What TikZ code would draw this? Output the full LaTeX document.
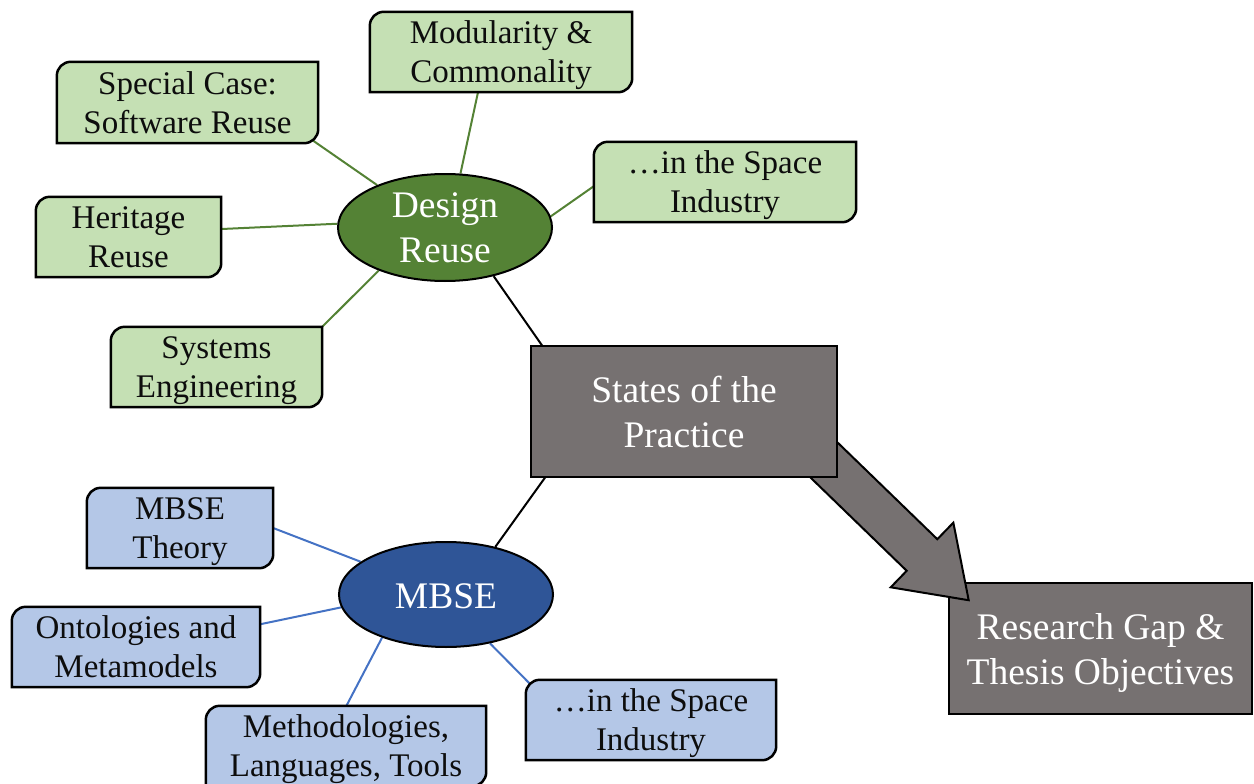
\documentclass[tikz,border=0pt]{standalone}
\usepackage{fontspec}
\setmainfont{Liberation Serif}
\usetikzlibrary{shapes.geometric}
\pgfdeclarelayer{links}
\pgfdeclarelayer{plates}
\pgfsetlayers{links,plates,main}

\definecolor{leafgreen}{HTML}{C5E0B4}
\definecolor{hubgreen}{HTML}{548235}
\definecolor{leafblue}{HTML}{B4C7E7}
\definecolor{hubblue}{HTML}{2F5597}
\definecolor{linkblue}{HTML}{4472C4}
\definecolor{slate}{HTML}{767171}

\tikzset{
  leaf/.style={rectangle, inner sep=0pt, align=center, text=black!95, text depth=0pt,
    font=\fontsize{33}{39}\selectfont},
  hub/.style={ellipse, draw=black, line width=2pt, inner sep=0pt},
  hubtext/.style={align=center, text=white, text depth=0pt, font=\fontsize{37.5}{45}\selectfont},
  stage/.style={rectangle, draw=black, line width=2.5pt, fill=slate, inner sep=0pt,
    align=center, text=white, text depth=0pt, font=\fontsize{37.5}{45}\selectfont},
  greenlink/.style={draw=hubgreen, line width=2pt},
  bluelink/.style={draw=linkblue, line width=2pt},
  blacklink/.style={draw=black, line width=2pt},
  plate/.style={draw=black, line width=2.5pt},
}

% Box outline with rounded top-left and bottom-right corners, behind the node text
\newcommand\cornerplate[2]{%
  \begin{pgfonlayer}{plates}
    \path[plate, fill=#2]
      ([yshift=-14pt]#1.north west) arc[start angle=180, end angle=90, radius=14pt]
      -- (#1.north east)
      -- ([yshift=14pt]#1.south east) arc[start angle=0, end angle=-90, radius=14pt]
      -- (#1.south west) -- cycle;
  \end{pgfonlayer}}

\begin{document}
\begin{tikzpicture}[x=1pt,y=1pt]
\useasboundingbox (0,0) rectangle (1254,-784);

% ---- Design reuse branch ----
\node[leaf, minimum width=261pt, minimum height=81pt] (sc) at (187.5,-102.5) {Special Case:\\Software Reuse};
\cornerplate{sc}{leafgreen}
\node[leaf, minimum width=262pt, minimum height=80pt] (mc) at (501,-52) {Modularity \&\\Commonality};
\cornerplate{mc}{leafgreen}
\node[leaf, minimum width=262pt, minimum height=80pt] (gs) at (725,-182) {…in the Space\\Industry};
\cornerplate{gs}{leafgreen}
\node[leaf, minimum width=185pt, minimum height=80pt] (hr) at (128.5,-237) {Heritage\\Reuse};
\cornerplate{hr}{leafgreen}
\node[leaf, minimum width=211pt, minimum height=80pt] (se) at (216.5,-367) {Systems\\Engineering};
\cornerplate{se}{leafgreen}

\node[hub, fill=hubgreen, minimum width=214pt, minimum height=107pt] (dr) at (445,-227.5) {};
\node[hubtext] (drt) at (dr.center) {Design\\Reuse};

% ---- MBSE branch ----
\node[leaf, minimum width=186pt, minimum height=80pt] (mt) at (180,-528) {MBSE\\Theory};
\cornerplate{mt}{leafblue}
\node[leaf, minimum width=248pt, minimum height=80pt] (om) at (136,-647) {Ontologies and\\Metamodels};
\cornerplate{om}{leafblue}
\node[leaf, minimum width=280pt, minimum height=80pt] (ml) at (346,-746) {Methodologies,\\Languages, Tools};
\cornerplate{ml}{leafblue}
\node[leaf, minimum width=250pt, minimum height=80pt] (bs) at (651,-720) {…in the Space\\Industry};
\cornerplate{bs}{leafblue}

\node[hub, fill=hubblue, minimum width=214pt, minimum height=105pt] (mb) at (446,-594.5) {};
\node[hubtext] (mbt) at ([yshift=-2pt]mb.center) {MBSE};

% ---- Outcome: research gap, block arrow, states of the practice ----
\node[stage, minimum width=303pt, minimum height=131pt] (rg) at (1100.5,-648.5) {Research Gap \&\\Thesis Objectives};

\begin{scope}[shift={(824,-460)}, rotate=-44.1]
  \path[draw=black, line width=2pt, fill=slate, line join=miter]
    (-30,22) -- (136.5,22) -- (136.5,45) -- (201.5,0) -- (136.5,-45)
    -- (136.5,-22) -- (-30,-22) -- cycle;
\end{scope}

\node[stage, minimum width=306pt, minimum height=131pt] (sp) at (684,-411.5) {States of the\\Practice};

% ---- Connectors ----
\begin{pgfonlayer}{links}
  \draw[greenlink] (dr.148.6) -- ([shift={(-13,8)}]sc.south east);
  \draw[greenlink] (dr.74.3) -- ([shift={(-21.7,6)}]mc.south);
  \draw[greenlink] (dr.6.7) -- ([shift={(6,0)}]gs.west);
  \draw[greenlink] (dr.178.1) -- ([shift={(-6,7.7)}]hr.east);
  \draw[greenlink] (dr.213) -- ([shift={(-6,-6)}]se.north east);
  \draw[blacklink] (dr.-45.9) -- ([shift={(15.3,-5)}]sp.north west);
  \draw[blacklink] (mb.44.7) -- ([shift={(18.4,5)}]sp.south west);
  \draw[bluelink] (mb.159.3) -- ([shift={(-6,2.3)}]mt.east);
  \draw[bluelink] (mb.187.9) -- ([shift={(-6,21.5)}]om.east);
  \draw[bluelink] (mb.214.8) -- ([shift={(-2.2,-5)}]ml.north);
  \draw[bluelink] (mb.-48.3) -- ([shift={(12,-12)}]bs.north west);
\end{pgfonlayer}
\end{tikzpicture}
\end{document}
